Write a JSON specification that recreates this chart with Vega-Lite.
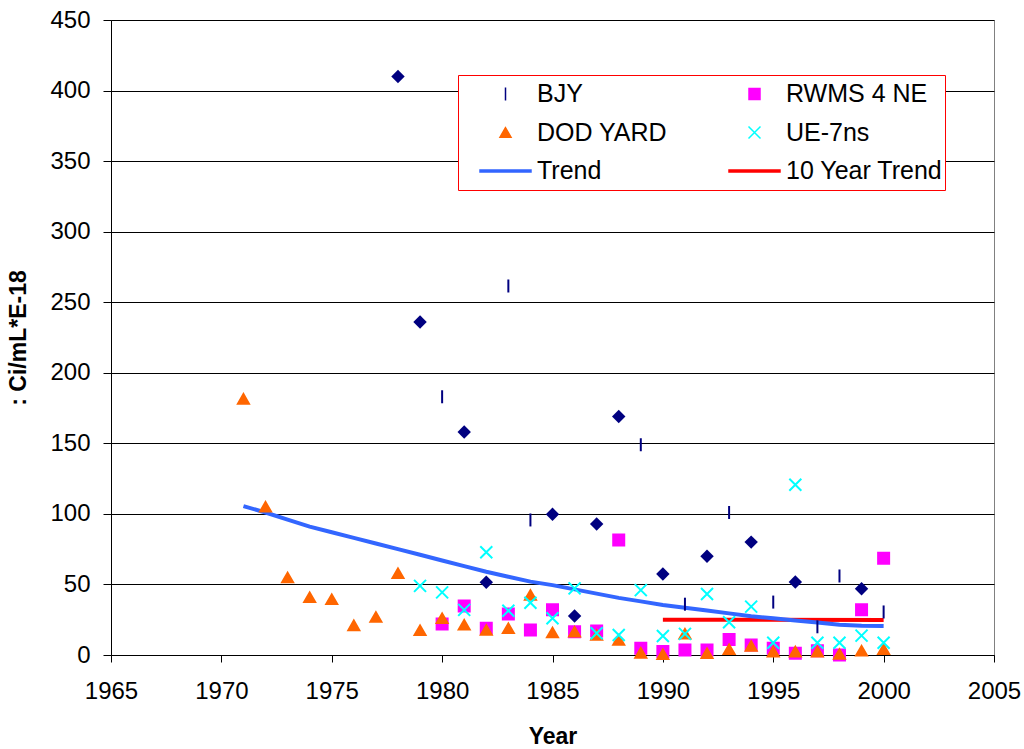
{
  "$schema": "https://vega.github.io/schema/vega-lite/v6.json",
  "width": 883,
  "height": 635,
  "autosize": {"type": "none"},
  "padding": {"left": 111, "top": 20, "right": 30, "bottom": 94},
  "background": "white",
  "config": {
    "font": "Liberation Sans",
    "view": {"stroke": "#808080", "strokeWidth": 1},
    "axis": {
      "labelFont": "Liberation Sans", "labelFontSize": 24, "labelColor": "#000",
      "titleFont": "Liberation Sans", "titleFontSize": 23, "titleFontWeight": "bold", "titleColor": "#000",
      "domainColor": "#000", "tickColor": "#000", "gridColor": "#000", "gridOpacity": 1, "gridWidth": 1,
      "labelOverlap": false, "labelFlush": false
    },
    "legend": {
      "orient": "none", "legendX": 347, "legendY": 55,
      "columns": 2, "clipHeight": 34, "rowPadding": 4.5, "columnPadding": 41,
      "padding": 2, "strokeColor": "#ff0000", "fillColor": "white",
      "labelFont": "Liberation Sans", "labelFontSize": 25, "labelColor": "#000", "labelLimit": 300,
      "symbolOffset": 19, "labelOffset": 5
    }
  },
  "datasets": {
    "obs": [
      {"series": "RWMS 4 NE", "year": 1980, "value": 22},
      {"series": "RWMS 4 NE", "year": 1981, "value": 34.7},
      {"series": "RWMS 4 NE", "year": 1982, "value": 19},
      {"series": "RWMS 4 NE", "year": 1983, "value": 29},
      {"series": "RWMS 4 NE", "year": 1984, "value": 17.7},
      {"series": "RWMS 4 NE", "year": 1985, "value": 32},
      {"series": "RWMS 4 NE", "year": 1986, "value": 16.5},
      {"series": "RWMS 4 NE", "year": 1987, "value": 17},
      {"series": "RWMS 4 NE", "year": 1988, "value": 81.5},
      {"series": "RWMS 4 NE", "year": 1989, "value": 4.7},
      {"series": "RWMS 4 NE", "year": 1990, "value": 2.4},
      {"series": "RWMS 4 NE", "year": 1991, "value": 3.5},
      {"series": "RWMS 4 NE", "year": 1992, "value": 3.5},
      {"series": "RWMS 4 NE", "year": 1993, "value": 11},
      {"series": "RWMS 4 NE", "year": 1994, "value": 7},
      {"series": "RWMS 4 NE", "year": 1995, "value": 4.7},
      {"series": "RWMS 4 NE", "year": 1996, "value": 1.2},
      {"series": "RWMS 4 NE", "year": 1997, "value": 3},
      {"series": "RWMS 4 NE", "year": 1998, "value": 0},
      {"series": "RWMS 4 NE", "year": 1999, "value": 32},
      {"series": "RWMS 4 NE", "year": 2000, "value": 68.5},
      {"series": "BJY", "year": 1980, "value": 183},
      {"series": "BJY", "year": 1983, "value": 261.5},
      {"series": "BJY", "year": 1984, "value": 95.7},
      {"series": "BJY", "year": 1989, "value": 149},
      {"series": "BJY", "year": 1991, "value": 36},
      {"series": "BJY", "year": 1993, "value": 101},
      {"series": "BJY", "year": 1995, "value": 37.5},
      {"series": "BJY", "year": 1997, "value": 20},
      {"series": "BJY", "year": 1998, "value": 56},
      {"series": "BJY", "year": 2000, "value": 30.5},
      {"series": "DOD YARD", "year": 1971, "value": 181.5},
      {"series": "DOD YARD", "year": 1972, "value": 105},
      {"series": "DOD YARD", "year": 1973, "value": 55},
      {"series": "DOD YARD", "year": 1974, "value": 41},
      {"series": "DOD YARD", "year": 1975, "value": 39.5},
      {"series": "DOD YARD", "year": 1976, "value": 21},
      {"series": "DOD YARD", "year": 1977, "value": 27},
      {"series": "DOD YARD", "year": 1978, "value": 58},
      {"series": "DOD YARD", "year": 1979, "value": 17.5},
      {"series": "DOD YARD", "year": 1980, "value": 26},
      {"series": "DOD YARD", "year": 1981, "value": 21.5},
      {"series": "DOD YARD", "year": 1982, "value": 17.7},
      {"series": "DOD YARD", "year": 1983, "value": 19},
      {"series": "DOD YARD", "year": 1984, "value": 42.5},
      {"series": "DOD YARD", "year": 1985, "value": 16},
      {"series": "DOD YARD", "year": 1986, "value": 16.5},
      {"series": "DOD YARD", "year": 1987, "value": 14.2},
      {"series": "DOD YARD", "year": 1988, "value": 10.6},
      {"series": "DOD YARD", "year": 1989, "value": 1.5},
      {"series": "DOD YARD", "year": 1990, "value": 0.5},
      {"series": "DOD YARD", "year": 1991, "value": 15},
      {"series": "DOD YARD", "year": 1992, "value": 1.2},
      {"series": "DOD YARD", "year": 1993, "value": 4},
      {"series": "DOD YARD", "year": 1994, "value": 6.4},
      {"series": "DOD YARD", "year": 1995, "value": 2.4},
      {"series": "DOD YARD", "year": 1996, "value": 2.4},
      {"series": "DOD YARD", "year": 1997, "value": 2.4},
      {"series": "DOD YARD", "year": 1998, "value": 0.7},
      {"series": "DOD YARD", "year": 1999, "value": 3},
      {"series": "DOD YARD", "year": 2000, "value": 4},
      {"series": "UE-7ns", "year": 1979, "value": 49},
      {"series": "UE-7ns", "year": 1980, "value": 44.4},
      {"series": "UE-7ns", "year": 1981, "value": 32},
      {"series": "UE-7ns", "year": 1982, "value": 72.8},
      {"series": "UE-7ns", "year": 1983, "value": 31.4},
      {"series": "UE-7ns", "year": 1984, "value": 37},
      {"series": "UE-7ns", "year": 1985, "value": 26},
      {"series": "UE-7ns", "year": 1986, "value": 47.2},
      {"series": "UE-7ns", "year": 1987, "value": 15.4},
      {"series": "UE-7ns", "year": 1988, "value": 14.2},
      {"series": "UE-7ns", "year": 1989, "value": 46},
      {"series": "UE-7ns", "year": 1990, "value": 13.5},
      {"series": "UE-7ns", "year": 1991, "value": 15},
      {"series": "UE-7ns", "year": 1992, "value": 43.2},
      {"series": "UE-7ns", "year": 1993, "value": 23.2},
      {"series": "UE-7ns", "year": 1994, "value": 34.3},
      {"series": "UE-7ns", "year": 1995, "value": 8.7},
      {"series": "UE-7ns", "year": 1996, "value": 120.7},
      {"series": "UE-7ns", "year": 1997, "value": 8.7},
      {"series": "UE-7ns", "year": 1998, "value": 8.7},
      {"series": "UE-7ns", "year": 1999, "value": 13.7},
      {"series": "UE-7ns", "year": 2000, "value": 8.7}
    ],
    "diamonds": [
      {"year": 1978, "value": 410},
      {"year": 1979, "value": 236},
      {"year": 1981, "value": 158},
      {"year": 1982, "value": 51.5},
      {"year": 1985, "value": 99.7},
      {"year": 1986, "value": 27.6},
      {"year": 1987, "value": 92.8},
      {"year": 1988, "value": 169},
      {"year": 1990, "value": 57.4},
      {"year": 1992, "value": 70},
      {"year": 1994, "value": 80},
      {"year": 1996, "value": 51.7},
      {"year": 1999, "value": 47}
    ],
    "trends": [
      {"series": "10 Year Trend", "year": 1990, "value": 25},
      {"series": "10 Year Trend", "year": 2000, "value": 24.8},
      {"series": "Trend", "year": 1971, "value": 105.5},
      {"series": "Trend", "year": 1972, "value": 101},
      {"series": "Trend", "year": 1973, "value": 96},
      {"series": "Trend", "year": 1974, "value": 91},
      {"series": "Trend", "year": 1975, "value": 87},
      {"series": "Trend", "year": 1976, "value": 83},
      {"series": "Trend", "year": 1977, "value": 79},
      {"series": "Trend", "year": 1978, "value": 75},
      {"series": "Trend", "year": 1979, "value": 71},
      {"series": "Trend", "year": 1980, "value": 67},
      {"series": "Trend", "year": 1981, "value": 63},
      {"series": "Trend", "year": 1982, "value": 59},
      {"series": "Trend", "year": 1983, "value": 55.5},
      {"series": "Trend", "year": 1984, "value": 52},
      {"series": "Trend", "year": 1985, "value": 49.5},
      {"series": "Trend", "year": 1986, "value": 46.5},
      {"series": "Trend", "year": 1987, "value": 43.5},
      {"series": "Trend", "year": 1988, "value": 40.5},
      {"series": "Trend", "year": 1989, "value": 38},
      {"series": "Trend", "year": 1990, "value": 35.5},
      {"series": "Trend", "year": 1991, "value": 33.5},
      {"series": "Trend", "year": 1992, "value": 31.5},
      {"series": "Trend", "year": 1993, "value": 29.5},
      {"series": "Trend", "year": 1994, "value": 27.5},
      {"series": "Trend", "year": 1995, "value": 26},
      {"series": "Trend", "year": 1996, "value": 24.5},
      {"series": "Trend", "year": 1997, "value": 23},
      {"series": "Trend", "year": 1998, "value": 21.5},
      {"series": "Trend", "year": 1999, "value": 20.8},
      {"series": "Trend", "year": 2000, "value": 20.6}
    ]
  },
  "encoding": {
    "x": {
      "field": "year", "type": "quantitative",
      "scale": {"domain": [1965, 2005], "nice": false, "zero": false},
      "axis": {"title": "Year", "values": [1965, 1970, 1975, 1980, 1985, 1990, 1995, 2000, 2005], "format": "d", "grid": false, "tickSize": 7, "labelPadding": 17, "titlePadding": 22}
    },
    "y": {
      "field": "value", "type": "quantitative",
      "scale": {"domain": [0, 450], "nice": false},
      "axis": {"title": ": Ci/mL*E-18", "values": [0, 50, 100, 150, 200, 250, 300, 350, 400, 450], "tickSize": 8, "labelPadding": 13, "titlePadding": 19, "grid": true}
    }
  },
  "layer": [
    {
      "data": {"name": "trends"},
      "mark": {"type": "line", "strokeWidth": 4},
      "encoding": {
        "stroke": {
          "field": "series", "type": "nominal", "legend": {"title": null},
          "scale": {"domain": ["BJY", "DOD YARD", "Trend", "RWMS 4 NE", "UE-7ns", "10 Year Trend"], "range": ["#000080", "#ff6600", "#3366ff", "#ff00ff", "#00ffff", "#ff0000"]}
        },
        "order": {"field": "series", "type": "nominal", "sort": "ascending"}
      }
    },
    {
      "data": {"name": "diamonds"},
      "mark": {"type": "point", "shape": "diamond", "filled": true, "color": "#000080", "size": 180, "opacity": 1}
    },
    {
      "data": {"name": "obs"},
      "mark": {"type": "point", "filled": true, "opacity": 1, "strokeWidth": 2},
      "encoding": {
        "color": {
          "field": "series", "type": "nominal",
          "scale": {"domain": ["BJY", "DOD YARD", "Trend", "RWMS 4 NE", "UE-7ns", "10 Year Trend"], "range": ["#000080", "#ff6600", "#3366ff", "#ff00ff", "#00ffff", "#ff0000"]},
          "legend": {"title": null}
        },
        "shape": {
          "field": "series", "type": "nominal", "legend": {"title": null},
          "scale": {"domain": ["BJY", "DOD YARD", "Trend", "RWMS 4 NE", "UE-7ns", "10 Year Trend"], "range": ["M0,-1L0,1", "triangle-up", "M-1,-0.04L1,-0.04L1,0.04L-1,0.04Z", "square", "M-1,-1L1,1M-1,1L1,-1", "M-1,-0.04L1,-0.04L1,0.04L-1,0.04Z"]}
        },
        "size": {
          "field": "series", "type": "nominal", "legend": {"title": null},
          "scale": {"type": "ordinal", "domain": ["BJY", "DOD YARD", "Trend", "RWMS 4 NE", "UE-7ns", "10 Year Trend"], "range": [169, 121, 2600, 121, 144, 2600]}
        },
        "stroke": {
          "field": "series", "type": "nominal", "legend": {"title": null}
        }
      }
    }
  ]
}
